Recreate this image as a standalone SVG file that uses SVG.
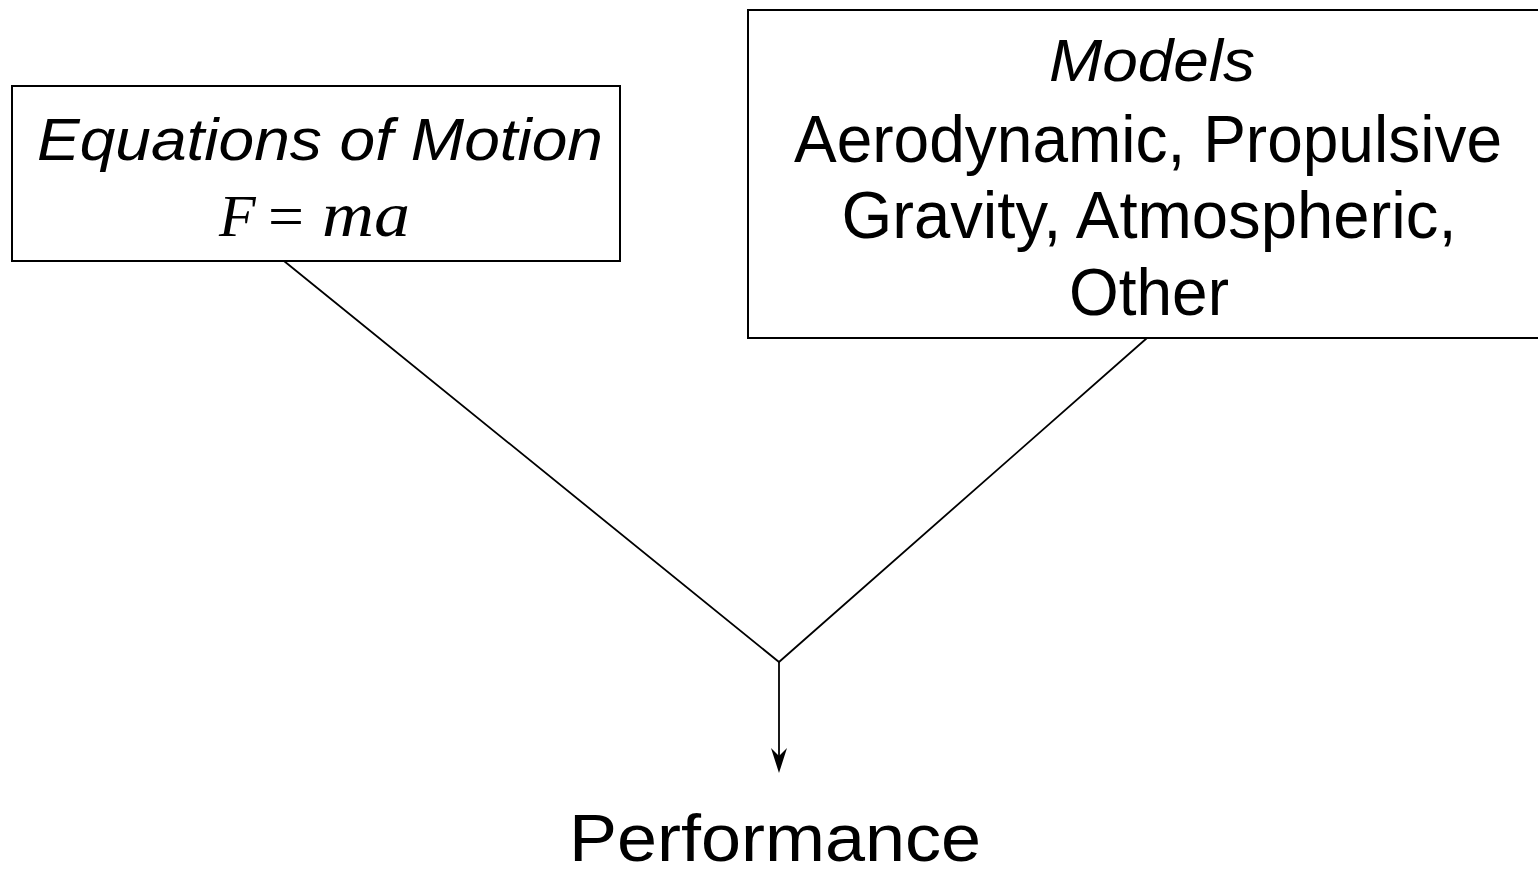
<svg xmlns="http://www.w3.org/2000/svg" width="1538" height="872" viewBox="0 0 1538 872">
<style>
.box{fill:#fff;stroke:#000;stroke-width:2}
.t{font-family:"Liberation Sans",Arial,sans-serif;font-size:66px;fill:#000;text-anchor:middle}
.i{font-style:italic;font-size:60px}
.m{font-family:"Liberation Serif","Times New Roman",serif;font-style:italic;font-size:60px;fill:#000}
.c{stroke:#000;stroke-width:1.8;fill:none}
</style>
<rect width="1538" height="872" fill="#fff"/>
<g id="connectors">
<path class="c" d="M284,261 L779,662 L1147,338"/>
<line class="c" x1="779" y1="662" x2="779" y2="760"/>
<path d="M771,748 L779,773 L787,748 L779,756 Z" fill="#000"/>
</g>
<g id="eom">
<rect class="box" x="12" y="86" width="608" height="175"/>
<text class="t i" x="320" y="160" textLength="566" lengthAdjust="spacingAndGlyphs">Equations of Motion</text>
<text class="m" y="236"><tspan x="219">F</tspan><tspan x="268" font-style="normal" textLength="36" lengthAdjust="spacingAndGlyphs">=</tspan><tspan x="322" font-size="64" textLength="88" lengthAdjust="spacingAndGlyphs">ma</tspan></text>
</g>
<g id="models">
<rect class="box" x="748" y="10" width="795" height="328"/>
<text class="t i" x="1152" y="81" textLength="206" lengthAdjust="spacingAndGlyphs">Models</text>
<text class="t" x="1148" y="162" textLength="708" lengthAdjust="spacingAndGlyphs">Aerodynamic, Propulsive</text>
<text class="t" x="1149" y="238" textLength="615" lengthAdjust="spacingAndGlyphs">Gravity, Atmospheric,</text>
<text class="t" x="1149" y="315" textLength="160" lengthAdjust="spacingAndGlyphs">Other</text>
</g>
<g id="performance">
<text class="t" x="775" y="861" font-size="67" textLength="412" lengthAdjust="spacingAndGlyphs">Performance</text>
</g>
</svg>
